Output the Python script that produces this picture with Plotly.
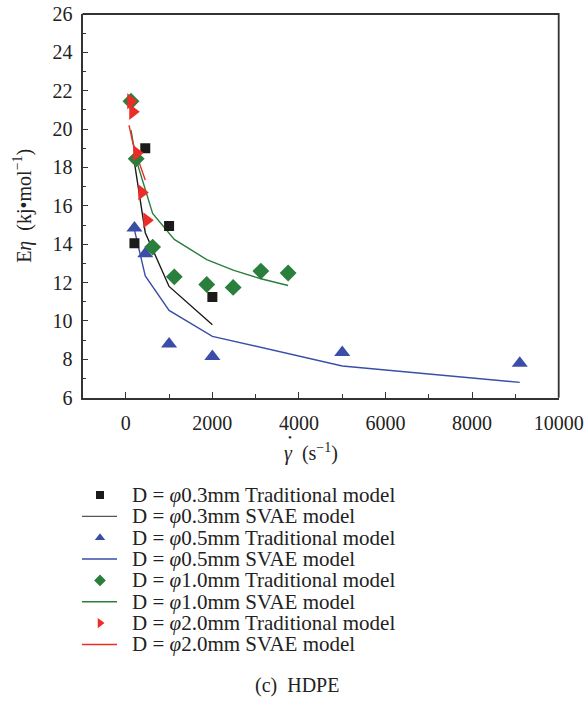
import plotly.graph_objects as go

# ---- data -------------------------------------------------------------
# D = φ0.3 mm
x_03_trad = [200, 450, 1000, 2000]
y_03_trad = [14.05, 19.0, 14.95, 11.25]
x_03_svae = [200, 450, 1000, 2000]
y_03_svae = [18.25, 14.6, 11.8, 9.8]

# D = φ0.5 mm
x_05_trad = [200, 450, 1000, 2000, 5000, 9100]
y_05_trad = [14.85, 13.5, 8.8, 8.15, 8.35, 7.8]
x_05_svae = [200, 450, 1000, 2000, 5000, 9100]
y_05_svae = [14.75, 12.35, 10.55, 9.2, 7.65, 6.8]

# D = φ1.0 mm
x_10_trad = [120, 240, 620, 1120, 1870, 2480, 3120, 3750]
y_10_trad = [21.45, 18.45, 13.85, 12.3, 11.9, 11.75, 12.6, 12.5]
x_10_svae = [120, 240, 620, 1120, 1870, 2480, 3120, 3750]
y_10_svae = [19.95, 18.4, 15.6, 14.25, 13.2, 12.65, 12.2, 11.85]

# D = φ2.0 mm
x_20_trad = [115, 160, 250, 370, 485]
y_20_trad = [21.45, 20.9, 18.75, 16.7, 15.25]
x_20_svae = [75, 160, 240, 350, 450]
y_20_svae = [20.2, 19.3, 18.7, 17.95, 17.35]

legend_labels = [
    "D = <i>φ</i>0.3mm Traditional model",
    "D = <i>φ</i>0.3mm SVAE model",
    "D = <i>φ</i>0.5mm Traditional model",
    "D = <i>φ</i>0.5mm SVAE model",
    "D = <i>φ</i>1.0mm Traditional model",
    "D = <i>φ</i>1.0mm SVAE model",
    "D = <i>φ</i>2.0mm Traditional model",
    "D = <i>φ</i>2.0mm SVAE model",
]

x_ticks = [0, 2000, 4000, 6000, 8000, 10000]
y_ticks = [6, 8, 10, 12, 14, 16, 18, 20, 22, 24, 26]

# ---- styling ----------------------------------------------------------
W, H = 586, 705
FONT = "Liberation Serif"
BLACK = "#1b1b1b"
BLUE = "#3a4ea8"
GREEN = "#2a7f3c"
RED = "#ec2d27"
AXIS = "#333333"
TXT = "#222222"

# plot area in pixels
PX0, PX1 = 82.5, 558.7
PY0, PY1 = 14.0, 397.7

fig = go.Figure()

series = [
    (x_03_trad, y_03_trad, x_03_svae, y_03_svae, BLACK, "square", 10),
    (x_05_trad, y_05_trad, x_05_svae, y_05_svae, BLUE, "triangle-up", 14),
    (x_10_trad, y_10_trad, x_10_svae, y_10_svae, GREEN, "diamond", 13),
    (x_20_trad, y_20_trad, x_20_svae, y_20_svae, RED, "triangle-right", 14),
]

# model curves first, measured points on top
for xt, yt, xs, ys, col, sym, sz in series:
    fig.add_trace(go.Scatter(x=xs, y=ys, mode="lines",
                             line=dict(color=col, width=1.4),
                             showlegend=False, xaxis="x", yaxis="y"))
for xt, yt, xs, ys, col, sym, sz in series:
    fig.add_trace(go.Scatter(x=xt, y=yt, mode="markers",
                             marker=dict(symbol=sym, size=sz, color=col,
                                         line=dict(width=0)),
                             showlegend=False, xaxis="x", yaxis="y"))

# ---- pixel-space overlay: frame edges and hand-built legend -------------
# top and right edges of the box around the data area
fig.add_trace(go.Scatter(x=[PX0, PX1, PX1], y=[PY0, PY0, PY1], mode="lines",
                         line=dict(color=AXIS, width=1.8),
                         showlegend=False, xaxis="x2", yaxis="y2",
                         hoverinfo="skip"))

LEG_X_MARK = 100
LEG_X_LINE0, LEG_X_LINE1 = 82, 117
LEG_X_TEXT = 130
LEG_Y0, LEG_DY = 495, 21.35

for i, (xt, yt, xs, ys, col, sym, sz) in enumerate(series):
    ym = LEG_Y0 + (2 * i) * LEG_DY
    yl = LEG_Y0 + (2 * i + 1) * LEG_DY
    fig.add_trace(go.Scatter(x=[LEG_X_MARK], y=[ym], mode="markers",
                             marker=dict(symbol=sym, size=9 if sym != "square" else 8,
                                         color=col, line=dict(width=0)),
                             showlegend=False, xaxis="x2", yaxis="y2",
                             hoverinfo="skip"))
    fig.add_trace(go.Scatter(x=[LEG_X_LINE0, LEG_X_LINE1], y=[yl, yl], mode="lines",
                             line=dict(color=col if col != BLACK else "#555555", width=1.4),
                             showlegend=False, xaxis="x2", yaxis="y2",
                             hoverinfo="skip"))

annotations = []
for i, lab in enumerate(legend_labels):
    annotations.append(dict(x=LEG_X_TEXT, y=LEG_Y0 + i * LEG_DY, xref="x2", yref="y2",
                            text=lab, showarrow=False, xanchor="left", yanchor="middle",
                            font=dict(family=FONT, size=21, color=TXT)))

# axis titles and caption
GX = 311
annotations.append(dict(x=GX, y=452, xref="x2", yref="y2",
                        text="<i>γ</i>  (s<sup>−1</sup>)", showarrow=False,
                        xanchor="center", yanchor="middle",
                        font=dict(family=FONT, size=20, color=TXT)))
# dot over the gamma (shear-rate symbol)
annotations.append(dict(x=GX - 21, y=437, xref="x2", yref="y2",
                        text="•", showarrow=False,
                        xanchor="center", yanchor="middle",
                        font=dict(family=FONT, size=11, color=TXT)))
annotations.append(dict(x=23, y=(PY0 + PY1) / 2, xref="x2", yref="y2",
                        text="E<i>η</i>  (kj•mol<sup>−1</sup>)", showarrow=False,
                        textangle=-90, xanchor="center", yanchor="middle",
                        font=dict(family=FONT, size=20, color=TXT)))
annotations.append(dict(x=297, y=685, xref="x2", yref="y2",
                        text="(c)  HDPE", showarrow=False,
                        xanchor="center", yanchor="middle",
                        font=dict(family=FONT, size=20, color=TXT)))

axis_common = dict(showgrid=False, zeroline=False, showline=True, mirror=False,
                   linecolor=AXIS, linewidth=1.8, ticks="inside", ticklen=6,
                   tickwidth=1.2, tickcolor=AXIS, automargin=False,
                   tickfont=dict(family=FONT, size=20, color=TXT))

fig.update_layout(
    width=W, height=H, autosize=False,
    margin=dict(l=0, r=0, t=0, b=0, pad=0, autoexpand=False),
    paper_bgcolor="white", plot_bgcolor="rgba(0,0,0,0)",
    showlegend=False,
    xaxis=dict(domain=[PX0 / W, PX1 / W], range=[-1000, 10000],
               tickvals=x_ticks, ticktext=[str(v) for v in x_ticks],
               minor=dict(dtick=1000, tick0=0, ticks="inside", ticklen=3.5,
                          tickcolor=AXIS, tickwidth=1),
               anchor="y", ticklabelstandoff=6, **axis_common),
    yaxis=dict(domain=[1 - PY1 / H, 1 - PY0 / H], range=[6, 26],
               tickvals=y_ticks, ticktext=[str(v) for v in y_ticks],
               minor=dict(dtick=1, tick0=0, ticks="inside", ticklen=3.5,
                          tickcolor=AXIS, tickwidth=1),
               anchor="x", ticklabelstandoff=4, **axis_common),
    xaxis2=dict(domain=[0, 1], range=[0, W], visible=False, anchor="y2",
                fixedrange=True, automargin=False),
    yaxis2=dict(domain=[0, 1], range=[H, 0], visible=False, anchor="x2",
                fixedrange=True, automargin=False),
    annotations=annotations,
)

fig.write_html("out.html")
